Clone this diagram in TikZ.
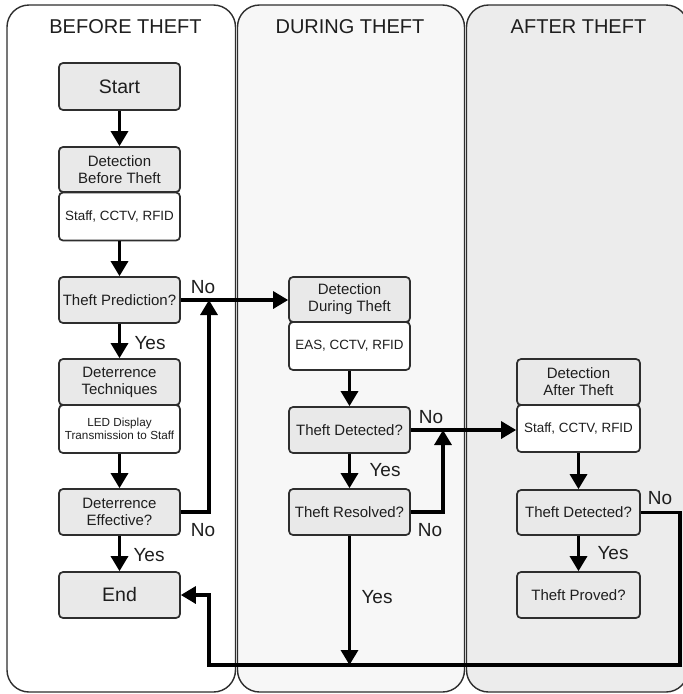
\documentclass[tikz,border=0pt]{standalone}
\usepackage{fontspec}
\setmainfont{Liberation Sans}
\usetikzlibrary{arrows.meta}
\definecolor{panelB}{HTML}{F7F7F7}
\definecolor{panelC}{HTML}{ECECEC}
\definecolor{boxgray}{HTML}{E9E9E9}
\definecolor{edgegray}{HTML}{2E2E2E}
\definecolor{txt}{HTML}{1E1E1E}
\tikzset{
  panel/.style={draw=edgegray, line width=1.4pt, rounded corners=22pt},
  gbox/.style={draw=edgegray, line width=1.7pt, fill=boxgray, rounded corners=4pt,
    minimum width=121pt, minimum height=46pt, inner sep=0pt, align=center,
    text=txt, font=\fontsize{15}{17}\selectfont},
  wbox/.style={gbox, fill=white},
  bigtxt/.style={font=\fontsize{19.5}{22}\selectfont},
  smalltxt/.style={font=\fontsize{13.4}{16}\selectfont},
  tinytxt/.style={font=\fontsize{11.7}{13.5}\selectfont},
  flow/.style={line width=3.2pt, -{Triangle[length=15pt,width=17pt]}},
  lbl/.style={inner sep=0pt, text=txt, font=\fontsize{19}{22}\selectfont},
  ttl/.style={inner sep=0pt, text=txt, font=\fontsize{20}{24}\selectfont},
}
\begin{document}
\begin{tikzpicture}[x=1pt,y=-1pt]
\useasboundingbox (0,0) rectangle (683,694);
\clip (0,0) rectangle (683,694);
% panels
\draw[panel, fill=white] (7,5) rectangle (235.5,692);
\draw[panel, fill=panelB] (237.5,5) rectangle (464.5,692);
\draw[panel, fill=panelC] (466.5,5) rectangle (688,692);
\node[ttl] (t1) at (125.5,26.5) {BEFORE THEFT};
\node[ttl] (t2) at (350,26.5) {DURING THEFT};
\node[ttl] (t3) at (578.5,26.5) {AFTER THEFT};
% left column
\node[gbox, bigtxt, minimum height=47pt] (start) at (119.5,86.5) {Start};
\node[gbox, minimum height=45pt] (det1) at (119.5,169.5) {Detection\\Before Theft};
\node[wbox, smalltxt, minimum height=48pt] (staff1) at (119.5,216.5) {Staff, CCTV, RFID};
\node[gbox] (pred) at (119.5,300) {Theft Prediction?};
\node[gbox] (deter) at (119.5,382) {Deterrence\\Techniques};
\node[wbox, tinytxt, minimum height=48pt] (led) at (119.5,429) {LED Display\\Transmission to Staff};
\node[gbox] (eff) at (119.5,512) {Deterrence\\Effective?};
\node[gbox, bigtxt] (endn) at (119.5,595) {End};
% middle column
\node[gbox, minimum height=45pt] (det2) at (349.5,299.5) {Detection\\During Theft};
\node[wbox, smalltxt, minimum height=48pt] (eas) at (349.5,346) {EAS, CCTV, RFID};
\node[gbox] (td2) at (349.5,430) {Theft Detected?};
\node[gbox] (tr) at (349.5,512) {Theft Resolved?};
% right column
\node[gbox, minimum width=123pt] (det3) at (578.5,382) {Detection\\After Theft};
\node[wbox, smalltxt, minimum width=123pt, minimum height=47pt] (staff3) at (578.5,428.5) {Staff, CCTV, RFID};
\node[gbox, minimum width=123pt, minimum height=45pt] (td3) at (578.5,512.5) {Theft Detected?};
\node[gbox, minimum width=123pt] (proved) at (578.5,595) {Theft Proved?};
% junction coordinates
\coordinate (j1) at (209,300);
\coordinate (j2) at (443,430);
\coordinate (j3) at (349.5,665);
\coordinate (c2) at (680,665);
\coordinate (c3) at (209,665);
% vertical flows
\draw[flow] (start) -- (det1);
\draw[flow] (staff1) -- (pred);
\draw[flow] (pred) -- (deter);
\draw[flow] (led) -- (eff);
\draw[flow] (eff) -- (endn);
\draw[flow] (eas) -- (td2);
\draw[flow] (td2) -- (tr);
\draw[flow] (tr) -- (j3);
\draw[flow] (staff3) -- (td3);
\draw[flow] (td3) -- (proved);
% horizontal flows
\draw[flow] (pred.east) -- (pred.east -| det2.west);
\draw[flow] (eff.east) -| (j1);
\draw[flow] (td2.east) -- (td2.east -| staff3.west);
\draw[flow] (tr.east) -| (j2);
\draw[flow] (td3.east) -| (c2) -- (c3) |- (endn.east);
% labels
\node[lbl] (lno1) at (203,287) {No};
\node[lbl] (lyes1) at (150,343) {Yes};
\node[lbl] (lno2) at (203,530) {No};
\node[lbl] (lyes2) at (149,555) {Yes};
\node[lbl] (lno3) at (431,417) {No};
\node[lbl] (lyes3) at (385,470) {Yes};
\node[lbl] (lno4) at (430,530) {No};
\node[lbl] (lyes4) at (377,597) {Yes};
\node[lbl] (lno5) at (660,498) {No};
\node[lbl] (lyes5) at (613,553) {Yes};
\end{tikzpicture}
\end{document}
